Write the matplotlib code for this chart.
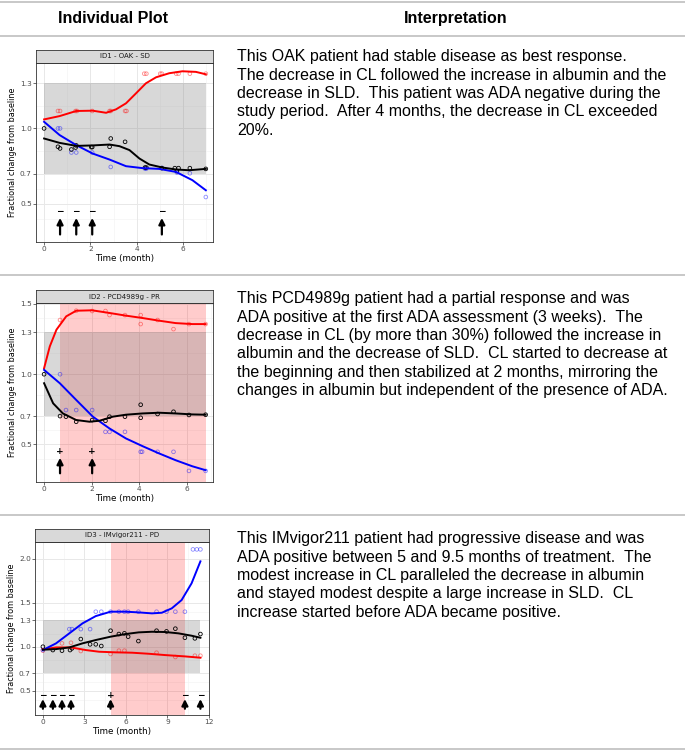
import matplotlib
matplotlib.use('Agg')
import matplotlib.pyplot as plt
from matplotlib.patches import Rectangle

W, H = 685, 750

# ---------------- data ----------------
# panel 1 : ID1 - OAK - SD
p1_title = 'ID1 - OAK - SD'
p1_t_cl = [0, 0.6, 0.69, 1.18, 1.36, 1.39, 2.04, 2.08, 2.83, 2.88, 3.5, 4.36, 4.42, 5.09, 5.65, 5.74, 5.81, 6.3, 6.99]
p1_cl = [1.0, 0.878, 0.867, 0.86, 0.873, 0.887, 0.876, 0.876, 0.878, 0.933, 0.911, 0.74, 0.74, 0.736, 0.736, 0.716, 0.736, 0.736, 0.731]
p1_t_alb = [0.6, 0.69, 1.36, 1.42, 2.08, 2.83, 2.88, 3.5, 3.56, 4.33, 4.42, 5.02, 5.09, 5.71, 5.81, 6.3, 6.99]
p1_alb = [1.116, 1.116, 1.116, 1.116, 1.116, 1.116, 1.116, 1.116, 1.116, 1.364, 1.364, 1.364, 1.364, 1.364, 1.364, 1.364, 1.364]
p1_t_sld = [0.6, 0.69, 1.18, 1.39, 2.08, 2.88, 4.36, 4.42, 5.09, 5.74, 6.3, 6.99]
p1_sld = [1.0, 1.0, 0.84, 0.84, 0.84, 0.744, 0.733, 0.733, 0.738, 0.707, 0.702, 0.544]
p1_fit_t_alb = [0, 0.67, 1.39, 2.1, 2.68, 3.11, 3.54, 3.97, 4.4, 4.84, 5.41, 5.98, 6.56, 6.99]
p1_fit_alb = [1.06, 1.082, 1.116, 1.118, 1.104, 1.127, 1.167, 1.233, 1.30, 1.34, 1.367, 1.38, 1.376, 1.36]
p1_fit_t_cl = [0, 0.67, 1.39, 2.1, 2.83, 3.26, 3.69, 4.12, 4.55, 5.12, 5.7, 6.27, 6.99]
p1_fit_cl = [0.933, 0.904, 0.884, 0.887, 0.893, 0.882, 0.856, 0.80, 0.76, 0.74, 0.727, 0.722, 0.731]
p1_fit_t_sld = [0, 0.67, 1.39, 2.1, 2.83, 3.54, 4.26, 4.98, 5.7, 6.41, 6.99]
p1_fit_sld = [1.044, 0.956, 0.889, 0.833, 0.793, 0.749, 0.736, 0.731, 0.711, 0.656, 0.589]
p1_ada_t = [0.69, 1.39, 2.08, 5.09]
p1_ada_lab = ['−', '−', '−', '−']
p1_pos = None

# panel 2 : ID2 - PCD4989g - PR
p2_title = 'ID2 - PCD4989g - PR'
p2_t_cl = [0, 0.67, 0.92, 1.35, 2.02, 2.58, 2.75, 3.4, 4.06, 4.06, 4.77, 5.44, 6.09, 6.79]
p2_cl = [1.0, 0.702, 0.698, 0.662, 0.674, 0.669, 0.698, 0.698, 0.783, 0.69, 0.717, 0.733, 0.71, 0.712]
p2_t_alb = [0.67, 1.35, 2.02, 2.58, 2.75, 3.4, 4.06, 4.06, 4.77, 5.44, 6.09, 6.79]
p2_alb = [1.386, 1.452, 1.45, 1.45, 1.421, 1.421, 1.421, 1.357, 1.386, 1.321, 1.357, 1.357]
p2_t_sld = [0.67, 0.92, 1.35, 2.02, 2.58, 2.75, 3.4, 4.06, 4.12, 4.77, 5.44, 6.09, 6.79]
p2_sld = [1.0, 0.745, 0.745, 0.745, 0.59, 0.59, 0.59, 0.448, 0.448, 0.448, 0.448, 0.312, 0.312]
p2_fit_t_alb = [0, 0.24, 0.52, 0.93, 1.35, 2.02, 2.75, 3.44, 4.14, 4.84, 5.53, 6.23, 6.79]
p2_fit_alb = [1.043, 1.198, 1.317, 1.412, 1.452, 1.455, 1.436, 1.417, 1.40, 1.381, 1.364, 1.357, 1.357]
p2_fit_t_cl = [0, 0.38, 0.79, 1.35, 1.91, 2.33, 2.89, 3.44, 4.14, 4.84, 5.53, 6.23, 6.79]
p2_fit_cl = [0.936, 0.793, 0.721, 0.674, 0.662, 0.669, 0.698, 0.712, 0.721, 0.726, 0.721, 0.714, 0.712]
p2_fit_t_sld = [0, 0.66, 1.35, 2.05, 2.75, 3.44, 4.14, 4.84, 5.53, 6.23, 6.79]
p2_fit_sld = [1.031, 0.936, 0.817, 0.698, 0.614, 0.543, 0.488, 0.436, 0.388, 0.345, 0.317]
p2_ada_t = [0.67, 2.02]
p2_ada_lab = ['+', '+']
p2_pos = (0.67, 6.79)

# panel 3 : ID3 - IMvigor211 - PD
p3_title = 'ID3 - IMvigor211 - PD'
p3_t_cl = [0, 0.72, 1.38, 1.96, 2.1, 2.74, 3.41, 3.82, 4.22, 4.89, 5.49, 5.89, 6.16, 6.9, 8.21, 8.93, 9.57, 10.26, 10.98, 11.38]
p3_cl = [1.0, 0.962, 0.955, 0.962, 0.981, 1.087, 1.027, 1.027, 1.008, 1.182, 1.144, 1.152, 1.114, 1.064, 1.182, 1.174, 1.205, 1.102, 1.095, 1.144]
p3_t_alb = [0, 1.38, 2.03, 2.74, 4.89, 5.49, 5.89, 8.21, 9.57, 10.98, 11.38]
p3_alb = [0.955, 1.038, 1.045, 0.951, 0.917, 0.955, 0.955, 0.932, 0.883, 0.898, 0.898]
p3_t_sld = [0, 1.91, 2.1, 2.74, 3.41, 3.82, 4.22, 4.89, 5.49, 5.89, 6.16, 6.9, 8.21, 8.93, 9.57, 10.26, 10.84, 11.12, 11.38]
p3_sld = [0.962, 1.2, 1.2, 1.2, 1.2, 1.398, 1.398, 1.398, 1.398, 1.398, 1.398, 1.398, 1.398, 1.398, 1.398, 1.398, 2.106, 2.106, 2.106]
p3_fit_t_alb = [0, 0.95, 2.03, 3.1, 4.06, 5.25, 6.44, 7.64, 8.83, 10.26, 11.38]
p3_fit_alb = [0.97, 0.992, 0.992, 0.962, 0.943, 0.936, 0.932, 0.92, 0.905, 0.89, 0.875]
p3_fit_t_cl = [0, 0.95, 1.91, 2.86, 3.82, 4.89, 5.97, 6.92, 7.88, 8.83, 9.79, 10.74, 11.38]
p3_fit_cl = [0.966, 0.973, 0.992, 1.038, 1.076, 1.114, 1.144, 1.163, 1.17, 1.167, 1.152, 1.125, 1.102]
p3_fit_t_sld = [0, 0.95, 1.91, 2.86, 3.82, 4.89, 5.97, 6.92, 7.88, 8.59, 9.31, 10.02, 10.74, 11.38]
p3_fit_sld = [0.962, 1.038, 1.152, 1.265, 1.348, 1.398, 1.398, 1.39, 1.379, 1.386, 1.436, 1.53, 1.72, 1.97]
p3_ada_t = [0, 0.72, 1.38, 2.03, 4.89, 10.26, 11.38]
p3_ada_lab = ['−', '−', '−', '−', '+', '−', '−']
p3_pos = (4.89, 10.26)

txt1 = ['This OAK patient had stable disease as best response.',
        'The decrease in CL followed the increase in albumin and the',
        'decrease in SLD.  This patient was ADA negative during the',
        'study period.  After 4 months, the decrease in CL exceeded',
        '20%.']
txt2 = ['This PCD4989g patient had a partial response and was',
        'ADA positive at the first ADA assessment (3 weeks).  The',
        'decrease in CL (by more than 30%) followed the increase in',
        'albumin and the decrease of SLD.  CL started to decrease at',
        'the beginning and then stabilized at 2 months, mirroring the',
        'changes in albumin but independent of the presence of ADA.']
txt3 = ['This IMvigor211 patient had progressive disease and was',
        'ADA positive between 5 and 9.5 months of treatment.  The',
        'modest increase in CL paralleled the decrease in albumin',
        'and stayed modest despite a large increase in SLD.  CL',
        'increase started before ADA became positive.']

fig = plt.figure(figsize=(W / 100, H / 100), dpi=100)


def box(l, t, r, b):
    return [l / W, 1 - b / H, (r - l) / W, (b - t) / H]


def panel(l, t, r, b, title, xlim, ylim, xt, yt, t_end, d, pos, ada_t, ada_lab):
    ax = fig.add_axes(box(l, t, r, b))
    ax.set_xlim(xlim)
    ax.set_ylim(ylim)
    # grid like theme_bw
    xm = [(xt[i] + xt[i + 1]) / 2 for i in range(len(xt) - 1)] + [xt[-1] + (xt[1] - xt[0]) / 2]
    ym = [(yt[i] + yt[i + 1]) / 2 for i in range(len(yt) - 1)] + [yt[0] - (yt[1] - yt[0]) / 2]
    for v in xm:
        ax.axvline(v, color='#f4f4f4', lw=0.5, zorder=0)
    for v in ym:
        ax.axhline(v, color='#f4f4f4', lw=0.5, zorder=0)
    for v in xt:
        ax.axvline(v, color='#e8e8e8', lw=0.7, zorder=0)
    for v in yt:
        ax.axhline(v, color='#e8e8e8', lw=0.7, zorder=0)
    if pos is not None:
        ax.axvspan(pos[0], pos[1], color='red', alpha=0.2, lw=0, zorder=1)
    ax.add_patch(Rectangle((0, 0.7), t_end, 0.6, color='gray', alpha=0.3, lw=0, zorder=1))
    t_cl, cl, t_alb, alb, t_sld, sld, ft_alb, f_alb, ft_cl, f_cl, ft_sld, f_sld = d
    ax.scatter(t_alb, alb, s=7, facecolors='none', edgecolors='red', linewidths=0.6, alpha=0.45, zorder=3)
    ax.scatter(t_sld, sld, s=7, facecolors='none', edgecolors='blue', linewidths=0.6, alpha=0.45, zorder=3)
    ax.scatter(t_cl, cl, s=7, facecolors='none', edgecolors='black', linewidths=0.6, zorder=3)
    ax.plot(ft_alb, f_alb, color='red', lw=1.4, zorder=4)
    ax.plot(ft_sld, f_sld, color='blue', lw=1.4, zorder=4)
    ax.plot(ft_cl, f_cl, color='black', lw=1.4, zorder=4)
    for x, lab in zip(ada_t, ada_lab):
        ax.annotate('', xy=(x, 0.405), xytext=(x, 0.295),
                    arrowprops=dict(arrowstyle='-|>', color='black', lw=1.6,
                                    mutation_scale=9, shrinkA=0, shrinkB=0), zorder=5)
        ax.text(x, 0.45, lab, ha='center', va='center', fontsize=6.5, fontweight='bold', zorder=5)
    ax.set_xticks(xt)
    ax.set_yticks(yt)
    ax.set_xticklabels([str(v) for v in xt])
    ax.set_yticklabels(['%.1f' % v for v in yt])
    ax.tick_params(labelsize=5.3, labelcolor='#4d4d4d', color='#333333', length=2, width=0.5, pad=1)
    for s in ax.spines.values():
        s.set_color('#333333')
        s.set_linewidth(0.6)
    ax.set_xlabel('Time (month)', fontsize=6.3, labelpad=1.5)
    ax.set_ylabel('Fractional change from baseline', fontsize=5.8, labelpad=2)
    # facet strip
    st = fig.add_axes(box(l, t - 13, r, t))
    st.set_facecolor('#d9d9d9')
    st.set_xticks([])
    st.set_yticks([])
    for s in st.spines.values():
        s.set_color('#333333')
        s.set_linewidth(0.6)
    st.text(0.5, 0.5, title, ha='center', va='center', fontsize=5, color='#1a1a1a')
    return ax


panel(36, 63, 213, 242, p1_title, (-0.35, 7.3), (0.245, 1.435), [0, 2, 4, 6], [0.5, 0.7, 1.0, 1.3], 6.99,
      (p1_t_cl, p1_cl, p1_t_alb, p1_alb, p1_t_sld, p1_sld,
       p1_fit_t_alb, p1_fit_alb, p1_fit_t_cl, p1_fit_cl, p1_fit_t_sld, p1_fit_sld),
      p1_pos, p1_ada_t, p1_ada_lab)
panel(36, 303, 213, 482, p2_title, (-0.34, 7.1), (0.233, 1.507), [0, 2, 4, 6], [0.5, 0.7, 1.0, 1.3, 1.5], 6.79,
      (p2_t_cl, p2_cl, p2_t_alb, p2_alb, p2_t_sld, p2_sld,
       p2_fit_t_alb, p2_fit_alb, p2_fit_t_cl, p2_fit_cl, p2_fit_t_sld, p2_fit_sld),
      p2_pos, p2_ada_t, p2_ada_lab)
panel(35, 542, 209, 715, p3_title, (-0.57, 12.0), (0.224, 2.19), [0, 3, 6, 9, 12], [0.5, 0.7, 1.0, 1.3, 1.5, 2.0], 11.38,
      (p3_t_cl, p3_cl, p3_t_alb, p3_alb, p3_t_sld, p3_sld,
       p3_fit_t_alb, p3_fit_alb, p3_fit_t_cl, p3_fit_cl, p3_fit_t_sld, p3_fit_sld),
      p3_pos, p3_ada_t, p3_ada_lab)

# table rules
for y in [1.5, 35.5, 275.5, 515, 748.5]:
    fig.add_artist(plt.Line2D([0, 1], [1 - y / H, 1 - y / H], color='#c4c4c4', lw=1.3))

fig.text(113 / W, 1 - 18.5 / H, 'Individual Plot', ha='center', va='center',
         fontsize=11.5, fontweight='bold', family='Liberation Sans')
fig.text(456 / W, 1 - 18.5 / H, 'Interpretation', ha='center', va='center',
         fontsize=11.5, fontweight='bold', family='Liberation Sans')

for lines, y0 in [(txt1, 61.3), (txt2, 303.3), (txt3, 543.3)]:
    for i, s in enumerate(lines):
        fig.text(237 / W, 1 - (y0 + i * 18.35) / H, s, ha='left', va='baseline',
                 fontsize=11.5, family='Liberation Sans', color='black')

fig.savefig('out.png', dpi=100)
